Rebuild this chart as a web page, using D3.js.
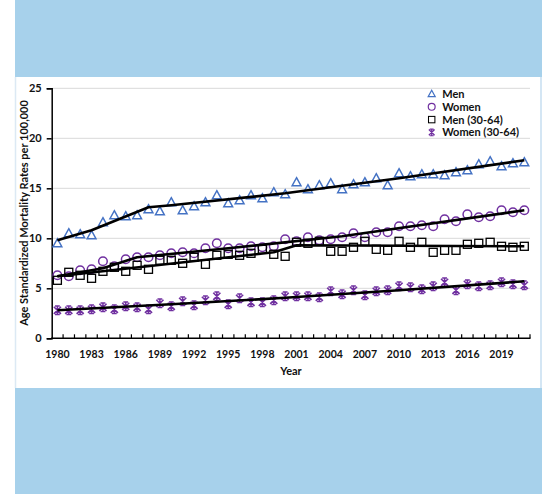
<!DOCTYPE html>
<html>
<head>
<meta charset="utf-8">
<script src="https://cdn.jsdelivr.net/npm/d3@7"></script>
<style>
  body { margin: 0; background: #fff; }
  svg { display: block; font-family: Lato, "Open Sans", sans-serif; font-weight: bold; }
</style>
</head>
<body>
<svg id="chart" width="548" height="494"></svg>
<script>

// years on the category axis
const years = d3.range(1980, 2022)
const tickYears = [1980, 1983, 1986, 1989, 1992, 1995, 1998, 2001, 2004, 2007, 2010, 2013, 2016, 2019]
const yTicks = [0, 5, 10, 15, 20, 25]

const menRates = [9.5, 10.5, 10.4, 10.3, 11.6, 12.3, 12.2, 12.3, 12.9, 12.7, 13.6, 12.8, 13.2, 13.6, 14.3, 13.5, 13.8, 14.3, 14.0, 14.6, 14.4,
                  15.6, 14.9, 15.3, 15.5, 14.9, 15.4, 15.6, 16.0, 15.3, 16.5, 16.2, 16.4, 16.4, 16.3, 16.6, 16.8, 17.4, 17.7, 17.2, 17.5, 17.6]
const womenRates = [6.3, 6.2, 6.8, 6.9, 7.7, 7.2, 7.9, 8.1, 8.1, 8.3, 8.5, 8.6, 8.5, 9.0, 9.5, 9.0, 9.0, 9.2, 9.1, 9.2, 9.9,
                    9.7, 10.1, 9.8, 9.9, 10.1, 10.5, 10.1, 10.6, 10.6, 11.2, 11.2, 11.3, 11.2, 11.9, 11.7, 12.4, 12.1, 12.2, 12.8, 12.6, 12.8]
const men3064Rates = [5.8, 6.6, 6.3, 6.0, 6.7, 7.1, 6.7, 7.3, 6.9, 7.8, 7.8, 7.5, 8.1, 7.4, 8.3, 8.4, 8.3, 8.5, 8.9, 8.4, 8.2,
                      9.6, 9.5, 9.7, 8.7, 8.7, 9.1, 9.7, 8.9, 8.8, 9.7, 9.1, 9.6, 8.6, 8.8, 8.8, 9.4, 9.5, 9.6, 9.2, 9.1, 9.2]
const women3064Rates = [2.8, 2.8, 2.8, 2.9, 3.1, 2.9, 3.2, 3.1, 2.9, 3.5, 3.2, 3.7, 3.3, 3.8, 4.2, 3.4, 4.0, 3.6, 3.6, 3.8, 4.2,
                        4.2, 4.2, 4.1, 4.7, 4.4, 4.8, 4.3, 4.7, 4.8, 5.2, 5.1, 4.9, 5.2, 5.6, 4.8, 5.4, 5.2, 5.3, 5.6, 5.4, 5.3]

// joinpoint trend knots
const menTrendYears = [1980, 1983, 1988, 1990, 2000, 2010, 2021]
const menTrend = [9.8, 10.8, 13.1, 13.3, 14.5, 16.0, 17.8]
const womenTrendYears = [1980, 1984, 1987, 1995, 2005, 2021]
const womenTrend = [6.2, 7.0, 8.1, 9.0, 10.2, 12.8]
const men3064TrendYears = [1980, 1999, 2001, 2021]
const men3064Trend = [6.2, 8.6, 9.3, 9.2]
const women3064TrendYears = [1980, 1990, 2000, 2010, 2021]
const women3064Trend = [2.8, 3.4, 4.05, 4.8, 5.7]

const seriesNames = ["Men", "Women", "Men (30-64)", "Women (30-64)"]


const blue = "#4472c4"
const purple = "#7030a0"

const svg = d3.select("#chart")

// page frame: blue bands top and bottom, white panel between
svg.append("rect").attr("x", 15).attr("y", 0).attr("width", 527).attr("height", 77).attr("fill", "#a7d1eb")
svg.append("rect").attr("x", 15).attr("y", 388).attr("width", 527).attr("height", 106).attr("fill", "#a7d1eb")
svg.append("line").attr("x1", 15.5).attr("x2", 15.5).attr("y1", 77).attr("y2", 388).attr("stroke", "#dce9f4").attr("stroke-width", 1.5)
svg.append("line").attr("x1", 541).attr("x2", 541).attr("y1", 77).attr("y2", 388).attr("stroke", "#c6def0").attr("stroke-width", 1.5)

const x = d3.scaleBand().domain(years).range([51.7, 530]).padding(0)
const y = d3.scaleLinear().domain([0, 25]).range([338.3, 88.3])
const cx = d => x(d) + x.bandwidth() / 2

// gridlines
svg.append("g")
   .selectAll("line")
   .data(yTicks.filter(t => t > 0))
   .join("line")
   .attr("x1", 52).attr("x2", 530)
   .attr("y1", d => y(d)).attr("y2", d => y(d))
   .attr("stroke", "#d9d9d9").attr("stroke-width", 1)

// y axis
const yAxis = svg.append("g")
        .attr("transform", "translate(51.7,0)")
        .call(d3.axisLeft(y).tickValues(yTicks).tickSize(5).tickPadding(5))
yAxis.select(".domain").attr("stroke", "#000").attr("stroke-width", 1.5)
yAxis.selectAll(".tick line").attr("stroke", "#000").attr("stroke-width", 1.5)
yAxis.selectAll("text").attr("font-size", 11).attr("font-family", "Lato, sans-serif").attr("font-weight", "bold").attr("fill", "#111")

// x axis: ticks between categories pointing up, labels every 3 years
const xAxis = svg.append("g").attr("transform", "translate(0,338.3)")
xAxis.append("line").attr("x1", 51).attr("x2", 530.5).attr("stroke", "#000").attr("stroke-width", 1.5)
xAxis.selectAll(".tk")
     .data(years.slice(1).concat([2022]))
     .join("line")
     .attr("class", "tk")
     .attr("x1", d => d === 2022 ? 530 : x(d)).attr("x2", d => d === 2022 ? 530 : x(d))
     .attr("y1", 0).attr("y2", -4)
     .attr("stroke", "#000").attr("stroke-width", 1.2)
xAxis.selectAll("text")
     .data(tickYears)
     .join("text")
     .attr("x", d => cx(d)).attr("y", 19.5)
     .attr("text-anchor", "middle")
     .attr("font-size", 10.5).attr("fill", "#111")
     .text(d => d)

// axis titles
svg.append("text")
   .attr("transform", "translate(28,213) rotate(-90)")
   .attr("text-anchor", "middle").attr("font-size", 11).attr("fill", "#111")
   .text("Age Standardized Mortality Rates per 100,000")
svg.append("text")
   .attr("x", 291).attr("y", 375)
   .attr("text-anchor", "middle").attr("font-size", 11).attr("fill", "#111")
   .text("Year")

// marker shapes
function drawMarker(g, kind){
        if(kind === 0){
                g.append("path").attr("d", "M0,-4.6L4.4,3.4L-4.4,3.4Z")
                 .attr("fill", "none").attr("stroke", blue).attr("stroke-width", 1.5)
        }else if(kind === 1){
                g.append("circle").attr("r", 4.3)
                 .attr("fill", "none").attr("stroke", purple).attr("stroke-width", 1.5)
        }else if(kind === 2){
                g.append("rect").attr("x", -4).attr("y", -4).attr("width", 8).attr("height", 8)
                 .attr("fill", "none").attr("stroke", "#000").attr("stroke-width", 1.3)
        }else{
                g.append("path").attr("d", "M-3.6,-3.6L3.6,3.6M3.6,-3.6L-3.6,3.6M0,-4.4L0,4.4M-2.4,-4.2L2.4,-4.2M-2.4,4.2L2.4,4.2")
                 .attr("fill", "none").attr("stroke", purple).attr("stroke-width", 1.5)
        }
}

const rates = [menRates, womenRates, men3064Rates, women3064Rates]
const trendYears = [menTrendYears, womenTrendYears, men3064TrendYears, women3064TrendYears]
const trends = [menTrend, womenTrend, men3064Trend, women3064Trend]

rates.forEach((R, k) => {
        svg.append("g")
           .selectAll("g")
           .data(years)
           .join("g")
           .attr("transform", (d, i) => `translate(${cx(d)},${y(R[i])})`)
           .each(function(){ drawMarker(d3.select(this), k) })
})

const line = d3.line().x(d => cx(d[0])).y(d => y(d[1]))

trends.forEach((T, k) => {
        svg.append("path")
           .datum(trendYears[k].map((yr, i) => [yr, T[i]]))
           .attr("d", line)
           .attr("fill", "none")
           .attr("stroke", "#000")
           .attr("stroke-width", 2.6)
           .attr("stroke-linejoin", "round")
})

// legend (markers drawn a bit smaller, as in the original)
const legend = svg.append("g").attr("transform", "translate(431.7,94)")
seriesNames.forEach((name, k) => {
        let row = legend.append("g").attr("transform", `translate(0,${k * 12.8})`)
        drawMarker(row.append("g").attr("transform", "scale(0.8)"), k)
        row.append("text").attr("x", 10.5).attr("y", 4)
           .attr("font-size", 11).attr("fill", "#111")
           .text(name)
})

</script>
</body>
</html>
